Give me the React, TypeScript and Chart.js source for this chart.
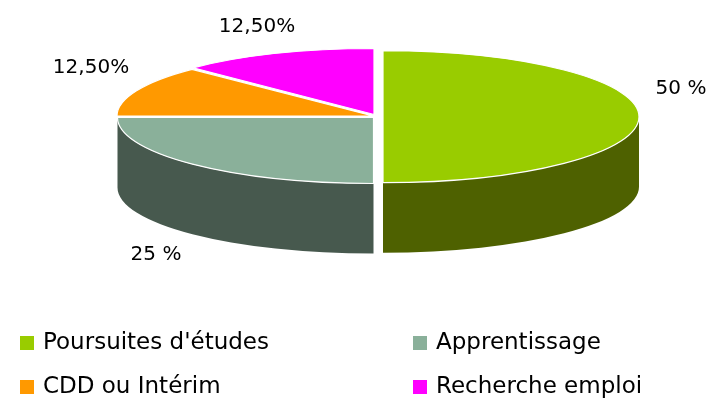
import React, { useEffect, useRef } from "react";
import { Chart, registerables } from "chart.js";

Chart.register(...registerables);

const categories = ["Poursuites d'études", "Apprentissage", "CDD ou Intérim", "Recherche emploi"];
const values = [50, 25, 12.5, 12.5];
const valueLabels = ["50 %", "25 %", "12,50%", "12,50%"];
const topColors = ["#99CC00", "#8AB09A", "#FF9900", "#FF00FF"];
const sideColors = ["#4E6100", "#47594E", "#804D00", "#800080"];

const FONT = '"DejaVu Sans", sans-serif';
const PIE = { cx: 373, cy: 116, rx: 256, ry: 66, depth: 70 };
const explode = [
  { x: 10, y: 0.7 },
  { x: 0.5, y: 1.5 },
  { x: 0, y: 0 },
  { x: 1, y: -1.5 },
];
const labelPos = [
  { x: 681, y: 89 },
  { x: 156, y: 255 },
  { x: 91, y: 68 },
  { x: 257, y: 27 },
];
const legendPos = [
  { x: 20, y: 343 },
  { x: 413, y: 343 },
  { x: 20, y: 387 },
  { x: 413, y: 387 },
];

const pie3d = {
  id: "pie3d",
  beforeDatasetDraw(chart: any) {
    const ctx = chart.ctx;
    const arcs = chart.getDatasetMeta(0).data;
    arcs.forEach((arc: any, i: number) => {
      const a0 = Math.max(arc.startAngle, 0);
      const a1 = Math.min(arc.endAngle, Math.PI);
      if (a1 <= a0) return;
      const cx = PIE.cx + explode[i].x;
      const cy = PIE.cy + explode[i].y;
      ctx.save();
      ctx.beginPath();
      ctx.ellipse(cx, cy, PIE.rx, PIE.ry, 0, a0, a1);
      ctx.ellipse(cx, cy + PIE.depth, PIE.rx, PIE.ry, 0, a1, a0, true);
      ctx.closePath();
      ctx.fillStyle = sideColors[i];
      ctx.fill();
      ctx.restore();
    });
    arcs.forEach((arc: any, i: number) => {
      const cx = PIE.cx + explode[i].x;
      const cy = PIE.cy + explode[i].y;
      ctx.save();
      ctx.translate(cx, cy);
      ctx.scale(PIE.rx / arc.outerRadius, PIE.ry / arc.outerRadius);
      ctx.translate(-arc.x, -arc.y);
      arc.draw(ctx);
      ctx.restore();
      ctx.save();
      ctx.beginPath();
      ctx.moveTo(cx, cy);
      ctx.ellipse(cx, cy, PIE.rx, PIE.ry, 0, arc.startAngle, arc.endAngle);
      ctx.closePath();
      ctx.strokeStyle = "#FFFFFF";
      ctx.lineWidth = 1.2;
      ctx.stroke();
      ctx.restore();
    });
    return false;
  },
  afterDraw(chart: any) {
    const ctx = chart.ctx;
    ctx.save();
    ctx.fillStyle = "#000000";
    ctx.textBaseline = "middle";
    ctx.font = `20px ${FONT}`;
    ctx.textAlign = "center";
    valueLabels.forEach((t, i) => ctx.fillText(t, labelPos[i].x, labelPos[i].y));
    ctx.textAlign = "left";
    ctx.font = `23px ${FONT}`;
    categories.forEach((t, i) => {
      const p = legendPos[i];
      ctx.fillStyle = topColors[i];
      ctx.fillRect(p.x, p.y - 7, 14, 14);
      ctx.fillStyle = "#000000";
      ctx.fillText(t, p.x + 23, p.y);
    });
    ctx.restore();
  },
};

export default function App() {
  const ref = useRef<HTMLCanvasElement>(null);
  useEffect(() => {
    document.body.style.margin = "0";
    const chart = new Chart(ref.current!, {
      type: "pie",
      data: {
        labels: categories,
        datasets: [{ data: values, backgroundColor: topColors, borderWidth: 0 }],
      },
      options: {
        responsive: false,
        animation: false,
        plugins: { legend: { display: false }, tooltip: { enabled: false } },
      },
      plugins: [pie3d],
    } as any);
    return () => chart.destroy();
  }, []);
  return <canvas ref={ref} width={713} height={400} style={{ display: "block" }} />;
}
